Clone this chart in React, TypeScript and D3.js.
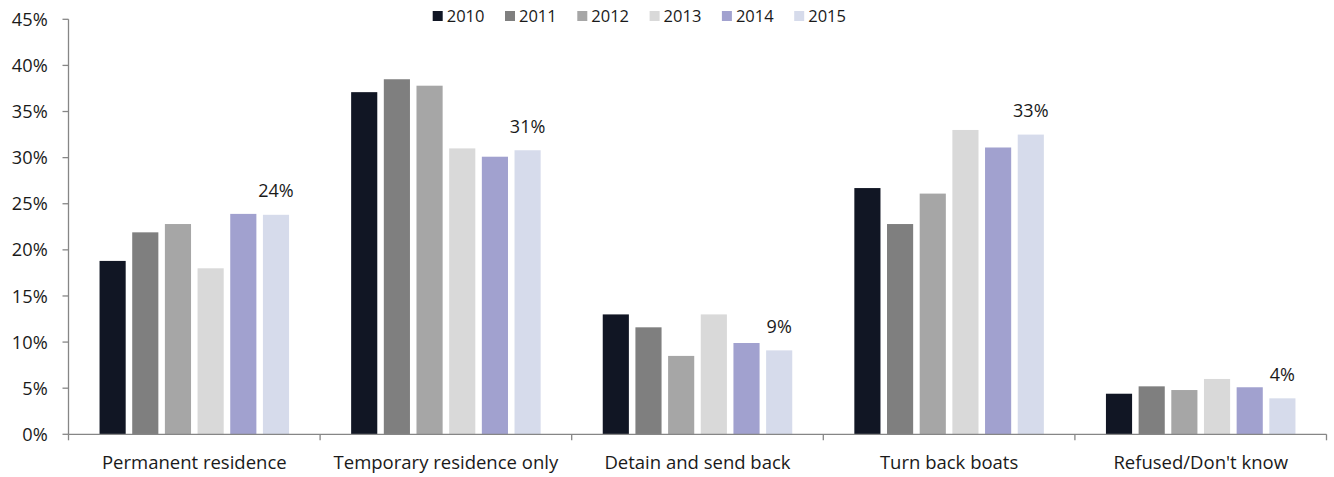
import React from "react";
import * as d3 from "d3";

const categories = [
  "Permanent residence",
  "Temporary residence only",
  "Detain and send back",
  "Turn back boats",
  "Refused/Don't know",
];
const years = ["2010", "2011", "2012", "2013", "2014", "2015"];
const s2010 = [18.8, 37.1, 13.0, 26.7, 4.4];
const s2011 = [21.9, 38.5, 11.6, 22.8, 5.2];
const s2012 = [22.8, 37.8, 8.5, 26.1, 4.8];
const s2013 = [18.0, 31.0, 13.0, 33.0, 6.0];
const s2014 = [23.9, 30.1, 9.9, 31.1, 5.1];
const s2015 = [23.8, 30.8, 9.1, 32.5, 3.9];
const series = [s2010, s2011, s2012, s2013, s2014, s2015];
const labels2015 = ["24%", "31%", "9%", "33%", "4%"];
const colors = ["#111624", "#7f7f7f", "#a6a6a6", "#d9d9d9", "#a1a1cf", "#d6dbeb"];
const yTicks = [0, 5, 10, 15, 20, 25, 30, 35, 40, 45];

const W = 1334;
const H = 477;
const FONT = "'Open Sans', sans-serif";

export default function App() {
  const x0 = 68.5, x1 = 1326.5, yBottom = 434.3, yTop = 19.3;
  const xCat = d3.scaleBand<string>().domain(categories).range([x0, x1]).padding(0);
  const xYear = d3
    .scaleBand<string>()
    .domain(years)
    .range([0, xCat.bandwidth()])
    .paddingInner(0.2)
    .paddingOuter(0.95);
  const y = d3.scaleLinear().domain([0, 45]).range([yBottom, yTop]);
  const axisColor = "#868686";
  const textColor = "#1a1a1a";

  const legendX0 = 432.7;
  const legendStep = 72.3;

  return (
    <svg
      width={W}
      height={H}
      style={{ position: "absolute", left: 0, top: 0, background: "#fff" }}
      fontFamily={FONT}
    >
      {/* legend */}
      {years.map((yr, i) => (
        <g key={yr} transform={`translate(${legendX0 + i * legendStep},0)`}>
          <rect x={0} y={11} width={10} height={10} fill={colors[i]} />
          <text x={14} y={21.8} fontSize={16.5} fill={textColor}>
            {yr}
          </text>
        </g>
      ))}

      {/* y axis */}
      <line x1={x0} x2={x0} y1={yTop} y2={yBottom} stroke={axisColor} strokeWidth={1.3} />
      {yTicks.map((t) => (
        <g key={t}>
          <line x1={x0 - 6} x2={x0} y1={y(t)} y2={y(t)} stroke={axisColor} strokeWidth={1.3} />
          <text
            x={47.7}
            y={y(t)}
            dy="0.36em"
            textAnchor="end"
            fontSize={18.2}
            fill={textColor}
          >
            {t}%
          </text>
        </g>
      ))}

      {/* bars */}
      {categories.map((c, ci) => (
        <g key={c} transform={`translate(${xCat(c)},0)`}>
          {series.map((s, si) => (
            <rect
              key={si}
              x={xYear(years[si])}
              y={y(s[ci])}
              width={xYear.bandwidth()}
              height={yBottom - y(s[ci])}
              fill={colors[si]}
            />
          ))}
          <text
            x={(xYear(years[5]) as number) + xYear.bandwidth() / 2}
            y={y(s2015[ci]) - 17.5}
            textAnchor="middle"
            fontSize={18}
            fill={textColor}
          >
            {labels2015[ci]}
          </text>
        </g>
      ))}

      {/* x axis */}
      <line x1={x0} x2={x1} y1={yBottom} y2={yBottom} stroke={axisColor} strokeWidth={1.3} />
      {[...categories.map((c) => xCat(c) as number), x1].map((xv, i) => (
        <line key={i} x1={xv} x2={xv} y1={yBottom} y2={yBottom + 6} stroke={axisColor} strokeWidth={1.3} />
      ))}
      {categories.map((c) => (
        <text
          key={c}
          x={(xCat(c) as number) + xCat.bandwidth() / 2}
          y={469.3}
          textAnchor="middle"
          fontSize={18.5}
          fill={textColor}
        >
          {c}
        </text>
      ))}
    </svg>
  );
}
